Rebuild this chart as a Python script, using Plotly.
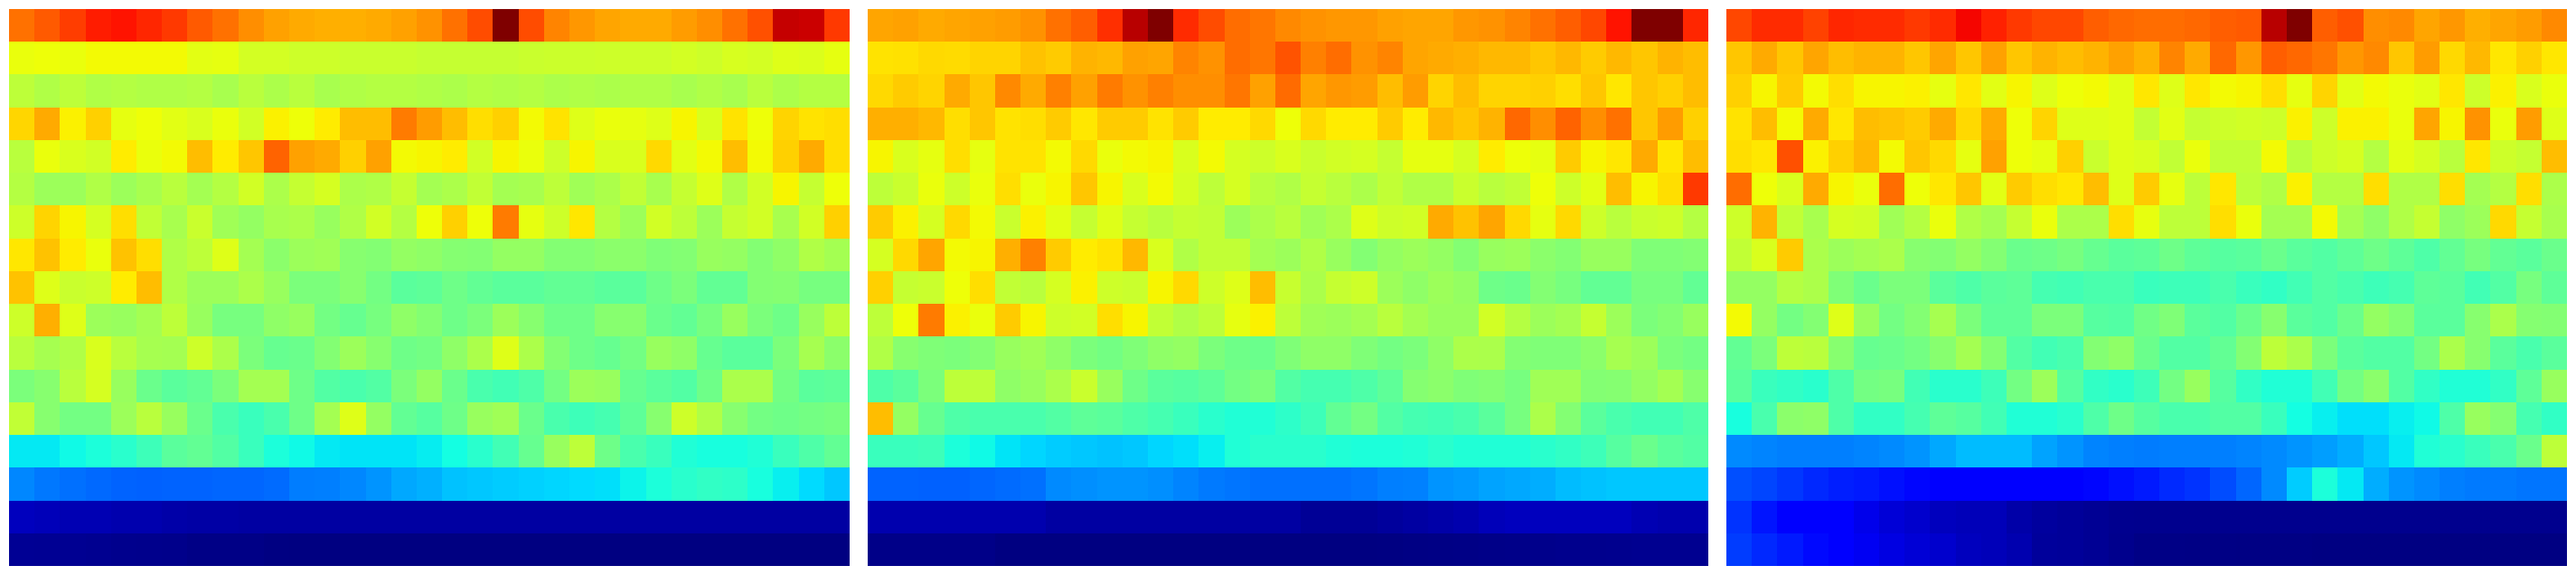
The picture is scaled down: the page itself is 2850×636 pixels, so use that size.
import plotly.graph_objects as go

left_panel = [
 [.79,.815,.845,.88,.89,.87,.85,.815,.79,.76,.74,.73,.725,.725,.73,.74,.755,.79,.83,1.0,.83,.77,.75,.735,.73,.73,.745,.76,.79,.825,.945,.94,.85],
 [.635,.64,.635,.645,.645,.645,.645,.627,.63,.607,.607,.60,.60,.595,.595,.595,.59,.59,.59,.59,.595,.597,.597,.60,.60,.60,.607,.60,.612,.607,.62,.617,.63],
 [.58,.565,.58,.565,.57,.565,.565,.57,.555,.575,.56,.575,.555,.565,.57,.57,.565,.56,.57,.565,.57,.56,.565,.56,.565,.565,.555,.565,.555,.575,.56,.57,.57],
 [.683,.73,.655,.69,.63,.64,.625,.615,.635,.605,.655,.64,.66,.71,.71,.78,.745,.71,.675,.69,.645,.67,.62,.635,.63,.62,.65,.615,.67,.64,.685,.67,.675],
 [.575,.635,.615,.605,.66,.635,.645,.71,.66,.70,.805,.74,.73,.69,.74,.645,.65,.66,.605,.65,.635,.60,.65,.615,.615,.68,.625,.645,.71,.645,.69,.73,.675],
 [.57,.54,.54,.565,.54,.555,.575,.55,.57,.605,.56,.59,.61,.56,.565,.59,.55,.56,.585,.55,.555,.58,.545,.56,.585,.555,.59,.62,.565,.605,.65,.59,.64],
 [.60,.685,.65,.61,.675,.585,.555,.595,.545,.53,.555,.56,.535,.565,.605,.57,.64,.69,.64,.78,.63,.60,.665,.57,.54,.605,.58,.54,.59,.605,.555,.605,.69],
 [.665,.705,.66,.635,.705,.675,.565,.58,.62,.55,.52,.54,.545,.515,.51,.53,.525,.512,.51,.53,.53,.51,.51,.52,.52,.505,.51,.535,.53,.51,.525,.565,.55],
 [.705,.62,.595,.60,.66,.71,.565,.54,.54,.56,.535,.50,.50,.515,.49,.46,.465,.485,.47,.46,.46,.47,.47,.46,.46,.485,.50,.47,.47,.51,.512,.495,.495],
 [.60,.725,.62,.54,.535,.55,.58,.535,.495,.495,.525,.535,.49,.475,.495,.525,.51,.485,.50,.54,.515,.485,.485,.515,.515,.48,.47,.495,.535,.50,.485,.535,.58],
 [.575,.553,.565,.615,.575,.553,.55,.60,.56,.50,.475,.48,.51,.54,.515,.485,.49,.525,.558,.62,.56,.51,.485,.475,.49,.535,.525,.475,.46,.46,.50,.553,.52],
 [.50,.515,.575,.61,.535,.48,.46,.47,.50,.55,.55,.485,.45,.44,.45,.50,.53,.48,.44,.43,.445,.49,.54,.535,.475,.46,.45,.485,.558,.558,.49,.46,.465],
 [.585,.515,.49,.49,.54,.575,.535,.48,.44,.42,.44,.485,.55,.62,.53,.47,.455,.485,.535,.545,.48,.44,.425,.435,.465,.515,.60,.565,.515,.49,.485,.49,.495],
 [.355,.355,.37,.385,.40,.425,.46,.47,.45,.42,.385,.37,.355,.35,.35,.35,.358,.375,.40,.43,.475,.535,.58,.485,.44,.42,.39,.38,.38,.39,.42,.445,.47],
 [.258,.243,.235,.228,.222,.22,.222,.222,.225,.225,.23,.248,.25,.258,.27,.29,.298,.315,.32,.325,.33,.335,.34,.345,.365,.385,.40,.41,.405,.38,.36,.34,.32],
 [.054,.05,.045,.045,.04,.04,.035,.033,.033,.03,.03,.03,.03,.03,.03,.03,.03,.03,.03,.03,.03,.03,.03,.03,.03,.03,.03,.03,.03,.03,.03,.03,.03],
 [.018,.017,.016,.015,.012,.011,.01,.006,.006,.006,.003,.002,.002,.002,.002,.002,.002,.002,.002,.002,.002,.002,.002,.002,.002,.002,.002,.002,.002,.002,.002,.002,.002],
]

middle_panel = [
 [.735,.74,.73,.735,.74,.745,.755,.79,.81,.86,.955,1.0,.865,.83,.795,.785,.765,.755,.75,.75,.74,.735,.735,.75,.755,.77,.79,.81,.835,.89,1.0,1.0,.87],
 [.67,.672,.68,.678,.685,.685,.705,.695,.72,.715,.74,.735,.77,.755,.795,.785,.822,.775,.795,.755,.77,.735,.73,.725,.715,.715,.70,.715,.695,.715,.70,.72,.71],
 [.68,.695,.685,.73,.70,.765,.73,.775,.74,.78,.755,.775,.76,.76,.785,.74,.797,.735,.75,.745,.71,.745,.685,.71,.685,.685,.69,.675,.70,.665,.70,.69,.71],
 [.725,.725,.715,.675,.70,.67,.675,.695,.665,.695,.695,.67,.695,.66,.66,.68,.64,.68,.66,.66,.695,.66,.715,.70,.72,.80,.76,.805,.76,.79,.70,.745,.69],
 [.65,.615,.63,.675,.63,.67,.67,.645,.68,.635,.645,.65,.615,.645,.61,.60,.615,.595,.605,.61,.59,.63,.63,.61,.66,.64,.63,.695,.65,.665,.73,.665,.71],
 [.58,.595,.635,.60,.635,.675,.635,.65,.70,.65,.615,.645,.61,.58,.61,.575,.565,.59,.575,.56,.585,.565,.565,.595,.575,.585,.64,.60,.625,.71,.65,.675,.85],
 [.695,.655,.61,.68,.645,.595,.655,.625,.59,.62,.59,.575,.59,.585,.54,.56,.575,.545,.56,.62,.60,.605,.73,.705,.735,.68,.63,.68,.60,.575,.595,.60,.57],
 [.61,.68,.735,.645,.65,.725,.775,.695,.66,.67,.715,.615,.565,.585,.585,.55,.54,.565,.535,.51,.53,.54,.53,.51,.535,.54,.52,.51,.535,.535,.505,.505,.51],
 [.69,.59,.595,.64,.675,.585,.575,.61,.655,.60,.595,.65,.68,.60,.62,.71,.592,.558,.59,.60,.54,.525,.54,.53,.485,.48,.51,.495,.47,.47,.495,.495,.47],
 [.58,.64,.78,.655,.635,.695,.65,.60,.605,.675,.65,.585,.565,.58,.63,.655,.58,.545,.54,.55,.575,.55,.535,.535,.605,.57,.54,.55,.59,.54,.50,.51,.535],
 [.565,.515,.505,.50,.51,.535,.545,.525,.50,.49,.505,.525,.53,.50,.485,.48,.505,.525,.525,.505,.49,.50,.525,.56,.558,.51,.505,.505,.52,.553,.54,.50,.49],
 [.445,.46,.50,.58,.58,.525,.535,.558,.595,.535,.485,.46,.455,.465,.49,.50,.45,.435,.435,.445,.465,.512,.52,.505,.51,.495,.545,.545,.51,.512,.53,.55,.515],
 [.71,.53,.475,.445,.44,.44,.44,.45,.465,.46,.445,.435,.42,.40,.39,.39,.405,.425,.47,.49,.45,.435,.43,.44,.46,.495,.56,.51,.46,.44,.43,.43,.445],
 [.42,.42,.425,.385,.37,.35,.335,.325,.32,.315,.32,.335,.345,.36,.39,.40,.40,.40,.39,.385,.385,.39,.40,.39,.39,.39,.40,.41,.425,.455,.48,.46,.45],
 [.222,.222,.22,.22,.225,.23,.235,.26,.265,.27,.27,.265,.255,.245,.24,.235,.235,.235,.235,.24,.25,.252,.27,.275,.285,.29,.295,.31,.315,.32,.32,.32,.32],
 [.04,.04,.04,.04,.04,.04,.04,.03,.03,.03,.03,.03,.03,.03,.03,.03,.03,.02,.02,.02,.025,.03,.035,.04,.05,.054,.054,.054,.054,.054,.045,.04,.04],
 [.008,.008,.008,.008,.008,.002,.002,.002,.002,.002,.002,.002,.002,.002,.002,.002,.002,.002,.002,.002,.003,.004,.005,.006,.008,.009,.01,.012,.012,.013,.015,.015,.015],
]

right_panel = [
 [.835,.865,.865,.84,.87,.865,.865,.85,.865,.905,.875,.85,.835,.835,.81,.80,.795,.795,.80,.81,.815,.955,1.0,.81,.825,.76,.765,.735,.75,.725,.735,.745,.765],
 [.70,.73,.70,.735,.71,.72,.72,.70,.735,.70,.74,.70,.72,.71,.72,.74,.722,.77,.73,.80,.75,.81,.80,.785,.75,.765,.70,.745,.68,.715,.665,.69,.665],
 [.69,.65,.695,.645,.675,.65,.65,.655,.63,.665,.625,.65,.62,.64,.645,.625,.665,.62,.665,.645,.65,.675,.63,.685,.625,.645,.635,.625,.665,.60,.655,.615,.635],
 [.67,.71,.645,.73,.665,.71,.705,.695,.73,.68,.73,.64,.685,.62,.62,.625,.588,.625,.59,.60,.605,.60,.655,.60,.655,.655,.635,.735,.65,.755,.635,.745,.62],
 [.675,.665,.825,.655,.69,.715,.645,.70,.68,.63,.74,.64,.63,.69,.595,.62,.615,.585,.635,.585,.585,.645,.575,.60,.61,.57,.625,.61,.575,.665,.60,.59,.71],
 [.795,.64,.615,.73,.65,.635,.795,.64,.665,.70,.625,.695,.675,.665,.71,.62,.695,.63,.58,.665,.58,.565,.655,.57,.57,.675,.565,.565,.675,.55,.57,.675,.56],
 [.60,.72,.585,.555,.61,.605,.545,.57,.635,.565,.55,.59,.635,.56,.56,.675,.632,.58,.58,.675,.635,.55,.55,.645,.55,.525,.565,.59,.525,.54,.68,.59,.555],
 [.585,.615,.695,.558,.54,.55,.558,.515,.51,.53,.51,.48,.485,.495,.475,.46,.465,.485,.465,.455,.46,.48,.46,.45,.465,.485,.465,.445,.47,.495,.47,.46,.48],
 [.53,.53,.57,.56,.505,.48,.50,.50,.46,.445,.46,.465,.435,.43,.44,.44,.42,.425,.425,.44,.42,.41,.43,.45,.44,.425,.435,.465,.46,.43,.45,.495,.465],
 [.645,.53,.49,.51,.62,.535,.49,.51,.553,.50,.465,.465,.50,.50,.455,.45,.487,.505,.46,.45,.48,.515,.46,.45,.48,.53,.51,.46,.46,.515,.558,.512,.51],
 [.47,.50,.58,.575,.515,.475,.48,.49,.515,.55,.51,.45,.43,.44,.51,.525,.48,.45,.45,.47,.51,.58,.558,.50,.46,.45,.45,.49,.558,.515,.46,.44,.46],
 [.46,.42,.41,.40,.445,.49,.495,.43,.40,.40,.425,.49,.54,.455,.41,.40,.425,.49,.535,.455,.41,.39,.39,.43,.49,.52,.45,.41,.39,.39,.41,.465,.535],
 [.38,.44,.52,.525,.445,.41,.41,.435,.465,.455,.43,.39,.39,.40,.445,.485,.455,.44,.44,.45,.45,.42,.375,.36,.345,.345,.36,.37,.445,.535,.512,.435,.41],
 [.26,.255,.25,.25,.25,.255,.26,.27,.29,.31,.31,.31,.285,.27,.255,.25,.247,.25,.25,.25,.255,.26,.27,.28,.295,.32,.355,.39,.40,.42,.44,.48,.58],
 [.203,.193,.179,.164,.154,.15,.14,.13,.115,.115,.115,.115,.125,.125,.13,.14,.15,.165,.175,.20,.225,.26,.325,.385,.355,.295,.27,.26,.25,.245,.245,.24,.24],
 [.175,.145,.115,.11,.11,.093,.076,.067,.054,.05,.05,.035,.027,.022,.018,.014,.013,.013,.013,.013,.013,.013,.013,.013,.013,.013,.013,.013,.013,.013,.013,.013,.013],
 [.184,.164,.15,.133,.11,.10,.085,.075,.067,.054,.05,.041,.024,.022,.018,.012,.006,.006,.005,.005,.004,.004,.004,.003,.003,.003,.003,.003,.003,.003,.003,.003,.003],
]

panels = [left_panel, middle_panel, right_panel]
for p in panels:
    assert len(p) == 17 and all(len(r) == 33 for r in p), [len(r) for r in p]

jet = [[0.0,"rgb(0,0,127)"],[0.11,"rgb(0,0,255)"],[0.125,"rgb(0,0,255)"],[0.34,"rgb(0,219,255)"],
       [0.35,"rgb(0,228,247)"],[0.375,"rgb(20,255,226)"],[0.64,"rgb(238,255,8)"],[0.65,"rgb(247,245,0)"],
       [0.66,"rgb(255,236,0)"],[0.89,"rgb(255,19,0)"],[0.91,"rgb(241,0,0)"],[1.0,"rgb(127,0,0)"]]

W, H = 2850, 636
edges = [(10, 940), (960, 1890), (1910, 2840)]
fig = go.Figure()
layout = dict(width=W, height=H, margin=dict(l=0, r=0, t=0, b=0), paper_bgcolor="white",
              plot_bgcolor="white", showlegend=False)
for i, (p, (a, b)) in enumerate(zip(panels, edges), start=1):
    s = "" if i == 1 else str(i)
    fig.add_trace(go.Heatmap(z=p, zmin=0, zmax=1, colorscale=jet, showscale=False,
                             xaxis=f"x{s}", yaxis=f"y{s}", xgap=0, ygap=0))
    layout[f"xaxis{s}"] = dict(domain=[a / W, b / W], visible=False, range=[-0.5, 32.5])
    layout[f"yaxis{s}"] = dict(domain=[1 - 626 / H, 1 - 10 / H], visible=False, range=[16.5, -0.5])
fig.update_layout(**layout)
fig.write_html("out.html", config={"displayModeBar": False},
               post_script="document.body.style.margin='0';document.documentElement.style.overflow='hidden';")
